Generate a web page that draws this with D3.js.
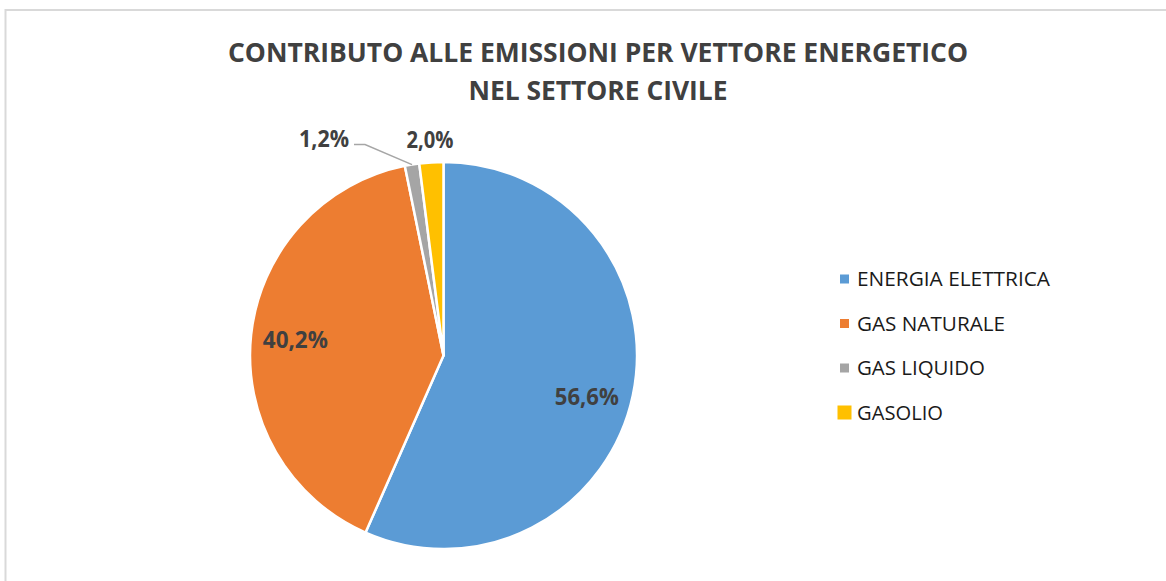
<!DOCTYPE html>
<html><head><meta charset="utf-8">
<script src="https://cdn.jsdelivr.net/npm/d3@7"></script>
<style>html,body{margin:0;padding:0;background:#fff;}svg{display:block;}</style>
</head><body>
<svg id="chart" width="1166" height="581"></svg>
<script>
const titleLines = ["CONTRIBUTO ALLE EMISSIONI PER VETTORE ENERGETICO", "NEL SETTORE CIVILE"];
const categories = ["ENERGIA ELETTRICA", "GAS NATURALE", "GAS LIQUIDO", "GASOLIO"];
const values = [56.6, 40.2, 1.2, 2.0];
const labels = ["56,6%", "40,2%", "1,2%", "2,0%"];
const colors = ["#5B9BD5", "#ED7D31", "#A5A5A5", "#FFC000"];

const svg = d3.select("#chart");
const FONT = "'Open Sans','DejaVu Sans',sans-serif";

// border
svg.append("path").attr("d", "M5.5,1000 V10 H2000").attr("fill", "none")
  .attr("stroke", "#d9d9d9").attr("stroke-width", 2);

function squeeze(sel, targetW, always) {
  const w = sel.node().getComputedTextLength();
  if (always || w > targetW) sel.attr("textLength", targetW).attr("lengthAdjust", "spacingAndGlyphs");
}

// title
const titleWidths = [740, 259];
const titleY = [62, 100];
titleLines.forEach((t, i) => {
  const s = svg.append("text").attr("x", 598).attr("y", titleY[i]).attr("text-anchor", "middle")
    .attr("font-family", FONT).attr("font-weight", "bold").attr("font-size", 27)
    .attr("fill", "#404040").text(t);
  squeeze(s, titleWidths[i]);
});

// pie
const cx = 443.5, cy = 355.5, R = 193.5;
const pie = d3.pie().sort(null).value(d => d)(values);
const arc = d3.arc().innerRadius(0).outerRadius(R);
const g = svg.append("g").attr("transform", `translate(${cx},${cy})`);
g.selectAll("path.slice").data(pie).join("path").attr("class", "slice")
  .attr("d", arc).attr("fill", (d, i) => colors[i])
  .attr("stroke", "#fff").attr("stroke-width", 2.5).attr("stroke-linejoin", "round");

// labels
const mid = d => (d.startAngle + d.endAngle) / 2;
const pt = (a, r) => [Math.sin(a) * r, -Math.cos(a) * r];
const labelW = [64, 65, 50, 47];
pie.forEach((d, i) => {
  const a = mid(d);
  let x, y, anchor = "middle";
  if (i === 0) { [x, y] = pt(a + 0.07, R * 0.77); }
  else if (i === 1) { [x, y] = pt(a, R * 0.77); }
  else if (i === 3) { [x, y] = pt(a, R * 1.12); }
  else {
    const [ex, ey] = pt(a, R);
    const bx = ex - 47, by = ey - 20;
    g.append("polyline").attr("points", `${ex},${ey} ${bx},${by} ${bx - 11},${by}`)
      .attr("fill", "none").attr("stroke", "#a6a6a6").attr("stroke-width", 1.5);
    x = bx - 16; y = by - 6; anchor = "end";
  }
  const s = g.append("text").attr("x", x).attr("y", y).attr("dy", "0.36em")
    .attr("text-anchor", anchor).attr("font-family", FONT).attr("font-weight", "bold")
    .attr("font-size", 24).attr("fill", "#404040").text(labels[i]);
  squeeze(s, labelW[i]);
});

// legend
const legW = [193, 148, 128, 86];
const legY = d3.scalePoint().domain(categories).range([279, 412.5]);
const lg = svg.append("g");
categories.forEach((c, i) => {
  const y = legY(c);
  const sz = i === 3 ? 14 : 9;
  lg.append("rect").attr("x", 844.5 - sz / 2).attr("y", y - sz / 2).attr("width", sz).attr("height", sz)
    .attr("fill", colors[i]);
  const t = lg.append("text").attr("x", 857).attr("y", y + 7).attr("font-family", FONT)
    .attr("font-size", 20).attr("fill", "#1a1a1a").text(c);
  squeeze(t, legW[i], true);
});
</script>
</body></html>
